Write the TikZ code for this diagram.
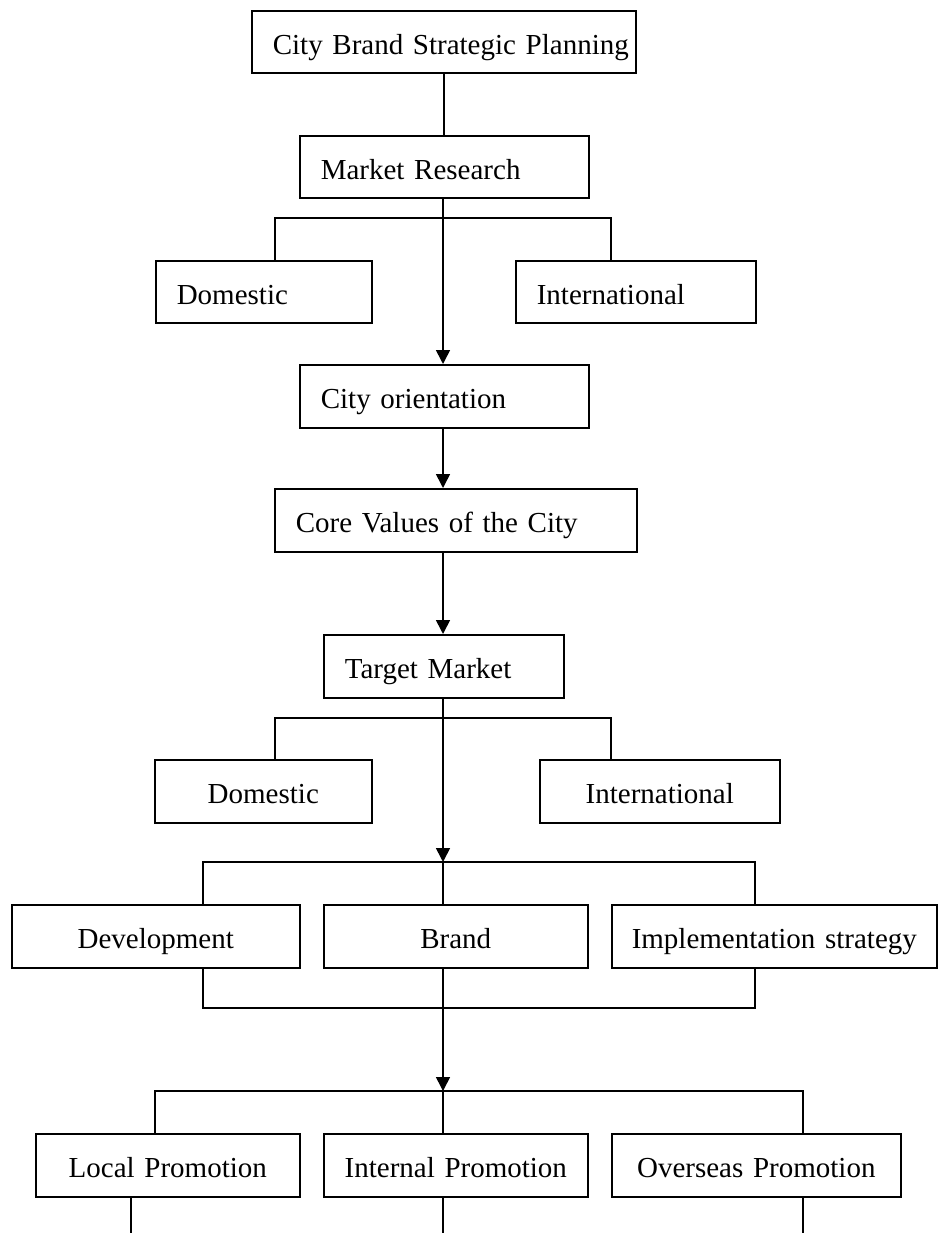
\documentclass[tikz,border=0pt]{standalone}
\usepackage{fontspec}
\setmainfont[WordSpace=0.8]{Liberation Serif}
\usetikzlibrary{arrows.meta}
\begin{document}
\begin{tikzpicture}[x=1pt,y=-1pt,line width=1.6pt,line join=miter,
  box/.style={draw, anchor=north west, inner ysep=0pt, text height=26pt, text depth=1pt,
    font=\fontsize{29}{34}\selectfont},
  lbox/.style={box, align=left, inner xsep=21pt},
  cbox/.style={box, align=center, inner xsep=0pt},
  arr/.style={-{Triangle[length=14pt,width=14pt]}}]
\useasboundingbox (0,0) rectangle (937,1233);
% nodes
\node[lbox, text width=342pt, minimum height=62pt] (top) at (251,10) {\mbox{City Brand Strategic Planning}};
\node[lbox, text width=247pt, minimum height=62pt] (mr) at (299,135) {Market Research};
\node[lbox, text width=174pt, minimum height=62pt] (dom1) at (155,260) {Domestic};
\node[lbox, text width=198pt, minimum height=62pt] (int1) at (515,260) {International};
\node[lbox, text width=247pt, minimum height=63pt] (co) at (299,364) {City orientation};
\node[lbox, text width=320pt, minimum height=63pt] (cv) at (274,488) {Core Values of the City};
\node[lbox, text width=198pt, minimum height=63pt] (tm) at (323,634) {Target Market};
\node[cbox, text width=217pt, minimum height=63pt] (dom2) at (154,759) {Domestic};
\node[cbox, text width=240pt, minimum height=63pt] (int2) at (539,759) {International};
\node[cbox, text width=288pt, minimum height=63pt] (dev) at (11,904) {Development};
\node[cbox, text width=264pt, minimum height=63pt] (brand) at (323,904) {Brand};
\node[cbox, text width=325pt, minimum height=63pt] (impl) at (611,904) {Implementation strategy};
\node[cbox, text width=264pt, minimum height=63pt] (local) at (35,1133) {Local Promotion};
\node[cbox, text width=264pt, minimum height=63pt] (internal) at (323,1133) {Internal Promotion};
\node[cbox, text width=289pt, minimum height=63pt] (overseas) at (611,1133) {Overseas Promotion};
% junction coordinates
\coordinate (a1) at (275,218);
\coordinate (a2) at (611,218);
\coordinate (b1) at (275,718);
\coordinate (b2) at (611,718);
\coordinate (c0) at (443,862);
\coordinate (c1) at (203,862);
\coordinate (c2) at (755,862);
\coordinate (d1) at (203,1008);
\coordinate (d2) at (755,1008);
\coordinate (e0) at (443,1091);
\coordinate (e1) at (155,1091);
\coordinate (e2) at (803,1091);
\coordinate (f1) at (131,1233);
\coordinate (f2) at (443,1233);
\coordinate (f3) at (803,1233);
% connectors
\draw (top.south) -- (top.south |- mr.north);
\draw[arr] (c0 |- mr.south) -- (c0 |- co.north);
\draw (a1 |- dom1.north) -- (a1) -- (a2) -- (a2 |- int1.north);
\draw[arr] (c0 |- co.south) -- (c0 |- cv.north);
\draw[arr] (c0 |- cv.south) -- (c0 |- tm.north);
\draw[arr] (c0 |- tm.south) -- (c0);
\draw (b1 |- dom2.north) -- (b1) -- (b2) -- (b2 |- int2.north);
\draw (c1 |- dev.north) -- (c1) -- (c2) -- (c2 |- impl.north);
\draw (c0) -- (c0 |- brand.north);
\draw (d1 |- dev.south) -- (d1) -- (d2) -- (d2 |- impl.south);
\draw[arr] (c0 |- brand.south) -- (e0);
\draw (e1 |- local.north) -- (e1) -- (e2) -- (e2 |- overseas.north);
\draw (e0) -- (e0 |- internal.north);
\draw (f1 |- local.south) -- (f1);
\draw (f2 |- internal.south) -- (f2);
\draw (f3 |- overseas.south) -- (f3);
\end{tikzpicture}
\end{document}
